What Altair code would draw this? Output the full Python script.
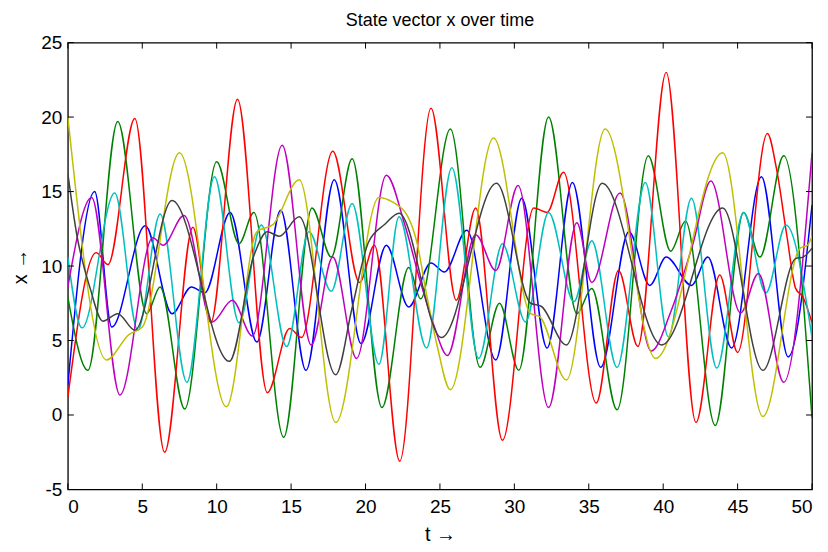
import altair as alt
import pandas as pd

# ---- data (local extrema and shape points) ----
blue_t = [0, 1.8, 2.95, 5.2, 7.0, 8.3, 9.2, 10.9, 12.7, 14.3, 16.0, 17.9, 19.7, 21.4, 22.9, 24.4, 25.3, 26.8, 28.75, 30.5, 32.2, 33.9, 35.8, 37.7, 39.1, 40.2, 41.9, 43.0, 44.6, 46.6, 48.4, 50]
blue_y = [2.0, 15.0, 5.9, 12.7, 6.8, 8.6, 8.2, 13.6, 4.9, 13.75, 3.0, 15.8, 4.8, 11.4, 7.25, 10.2, 9.6, 12.4, 3.7, 14.55, 4.5, 15.6, 3.2, 12.3, 8.7, 10.6, 8.7, 10.6, 4.5, 16.0, 3.9, 14.1]

green_t = [0, 1.35, 3.35, 5.3, 6.2, 7.85, 10.0, 11.5, 12.5, 14.5, 16.4, 17.7, 19.1, 21.1, 22.9, 23.7, 25.7, 27.7, 29.0, 30.3, 32.3, 34.2, 35.2, 36.9, 39.0, 40.5, 41.5, 43.5, 45.4, 46.5, 48.1, 50]
green_y = [7.9, 3.0, 19.7, 6.8, 8.6, 0.4, 17.0, 11.5, 13.6, -1.5, 13.9, 10.6, 17.2, 0.5, 9.9, 7.8, 19.2, 3.2, 7.5, 3.0, 20.0, 6.8, 8.5, 0.35, 17.4, 11.0, 13.0, -0.7, 13.6, 10.6, 17.4, -0.2]

red_t = [0, 1.9, 2.7, 4.5, 6.5, 8.4, 9.6, 11.4, 13.4, 14.9, 15.7, 17.8, 19.6, 20.6, 22.3, 24.4, 26.1, 27.4, 29.2, 31.3, 32.2, 33.3, 35.5, 37.0, 38.3, 40.2, 42.2, 43.8, 45.0, 47.0, 47.6, 48.3, 48.9, 49.4, 50]
red_y = [1.2, 10.9, 10.1, 19.9, -2.5, 12.6, 6.2, 21.2, 1.5, 5.8, 5.2, 17.7, 8.9, 11.4, -3.1, 20.6, 7.7, 13.9, -1.7, 13.9, 13.6, 16.3, 0.8, 9.7, 4.6, 23.0, -0.5, 9.4, 4.2, 18.9, 16.6, 12.1, 8.5, 7.9, 6.2]

cyan_t = [0, 0.95, 3.15, 4.7, 6.2, 8.0, 9.85, 11.5, 13.0, 14.7, 16.2, 17.7, 19.1, 20.9, 22.25, 24.1, 25.8, 27.6, 29.2, 30.75, 32.3, 34.0, 35.2, 36.9, 38.8, 40.35, 41.9, 43.6, 45.4, 46.9, 48.25, 50]
cyan_y = [10.6, 5.85, 14.9, 5.7, 13.5, 2.2, 16.0, 6.2, 12.75, 4.6, 12.3, 8.3, 14.2, 3.4, 13.3, 4.5, 16.6, 3.8, 11.5, 6.25, 13.6, 7.6, 11.7, 3.2, 15.6, 5.25, 14.55, 3.15, 13.6, 8.2, 12.75, 5.2]

magenta_t = [0, 1.6, 3.5, 5.7, 6.4, 7.8, 9.7, 11.05, 12.4, 14.4, 16.35, 17.8, 19.4, 21.4, 22.6, 23.7, 24.6, 25.5, 27.4, 28.75, 30.25, 32.3, 34.2, 35.2, 37.1, 39.2, 40.5, 42.0, 43.2, 45.2, 46.4, 48.1, 50]
magenta_y = [8.6, 14.6, 1.35, 11.9, 11.4, 13.4, 6.25, 7.7, 5.3, 18.1, 4.7, 10.6, 3.8, 16.1, 12.9, 8.9, 6.0, 4.0, 12.1, 9.7, 15.4, 0.5, 12.9, 8.9, 14.9, 4.3, 6.9, 11.5, 15.7, 6.85, 9.5, 2.2, 17.6]

yellow_t = [0, 2.6, 4.1, 5.0, 7.5, 10.65, 12.7, 13.8, 15.55, 18.0, 20.9, 21.8, 22.8, 23.45, 24.1, 24.8, 25.7, 28.6, 31.1, 31.7, 33.5, 36.1, 39.5, 44.0, 46.7, 49.2, 49.7, 50]
yellow_y = [20.0, 3.7, 5.4, 5.9, 17.6, 0.55, 12.3, 12.8, 15.8, -0.5, 14.6, 14.3, 13.4, 11.6, 8.1, 4.7, 1.7, 18.6, 6.8, 6.6, 2.35, 19.2, 3.8, 17.6, -0.1, 11.2, 11.4, 12.0]

gray_t = [0, 0.6, 1.5, 2.35, 3.35, 4.5, 7.0, 10.85, 12.5, 13.4, 14.2, 15.55, 18.0, 19.1, 20.2, 21.3, 22.25, 25.1, 28.8, 31.1, 31.8, 33.5, 35.9, 39.9, 44.0, 46.7, 48.9, 49.4, 50]
gray_y = [16.2, 12.1, 8.5, 6.3, 6.8, 5.7, 14.4, 3.6, 10.7, 12.3, 12.0, 13.3, 2.7, 7.2, 11.6, 12.8, 13.55, 5.2, 15.55, 7.5, 7.3, 4.7, 15.55, 4.7, 13.9, 3.0, 10.5, 10.6, 11.2]

series_names = ["x1", "x2", "x3", "x4", "x5", "x6", "x7"]
series_colors = ["#0000ff", "#008000", "#ff0000", "#00bfbf", "#bf00bf", "#bfbf00", "#404040"]
series_data = [(blue_t, blue_y), (green_t, green_y), (red_t, red_y), (cyan_t, cyan_y),
               (magenta_t, magenta_y), (yellow_t, yellow_y), (gray_t, gray_y)]

x_ticks = [0, 5, 10, 15, 20, 25, 30, 35, 40, 45, 50]
y_ticks = [-5, 0, 5, 10, 15, 20, 25]

rows = []
for name, (ts, vs) in zip(series_names, series_data):
    for t, v in zip(ts, vs):
        rows.append({"t": t, "x": v, "s": name})
df = pd.DataFrame(rows)

W, H = 746, 448
FONT = "Liberation Sans"
xs = alt.Scale(domain=[0, 50], nice=False, zero=False)
ys = alt.Scale(domain=[-5, 25], nice=False, zero=False)

x_axis = alt.Axis(title="t →", values=x_ticks, labelExpr="'' + datum.value",
                  labelPadding=8, titlePadding=8, grid=False, domain=False,
                  ticks=False, tickSize=0)
y_axis = alt.Axis(title="x →", values=y_ticks, labelExpr="'' + datum.value",
                  labelPadding=6, titlePadding=10, grid=False, domain=False,
                  ticks=False, tickSize=0)

lines = alt.Chart(df).mark_line(interpolate="monotone", strokeWidth=1.5, clip=True).encode(
    x=alt.X("t:Q", scale=xs, axis=x_axis),
    y=alt.Y("x:Q", scale=ys, axis=y_axis),
    color=alt.Color("s:N", scale=alt.Scale(domain=series_names, range=series_colors), legend=None),
    detail="s:N",
)

xt = pd.DataFrame({"t": x_ticks})
yt = pd.DataFrame({"x": y_ticks})
TL = 6
xb = alt.Chart(xt).mark_rule(color="black", strokeWidth=1).encode(
    x=alt.X("t:Q", scale=xs, axis=x_axis), y=alt.value(H), y2=alt.value(H - TL))
xtop = alt.Chart(xt).mark_rule(color="black", strokeWidth=1).encode(
    x=alt.X("t:Q", scale=xs, axis=x_axis), y=alt.value(0), y2=alt.value(TL))
yl = alt.Chart(yt).mark_rule(color="black", strokeWidth=1).encode(
    y=alt.Y("x:Q", scale=ys, axis=y_axis), x=alt.value(0), x2=alt.value(TL))
yr = alt.Chart(yt).mark_rule(color="black", strokeWidth=1).encode(
    y=alt.Y("x:Q", scale=ys, axis=y_axis), x=alt.value(W - TL), x2=alt.value(W))

chart = alt.layer(lines, xb, xtop, yl, yr).properties(
    width=W, height=H,
    autosize=alt.AutoSizeParams(type="none"),
    padding={"left": 60, "top": 34, "right": 8, "bottom": 60},
    title=alt.Title("State vector x over time", font=FONT, fontSize=18, fontWeight="normal",
                    color="black", offset=4),
).configure_view(stroke="black", strokeWidth=1.3).configure_axis(
    labelFont=FONT, labelFontSize=19, labelColor="black",
    titleFont=FONT, titleFontSize=20, titleFontWeight="normal", titleColor="black",
)

chart.save("out.html", embed_options={"renderer": "svg", "actions": False})
